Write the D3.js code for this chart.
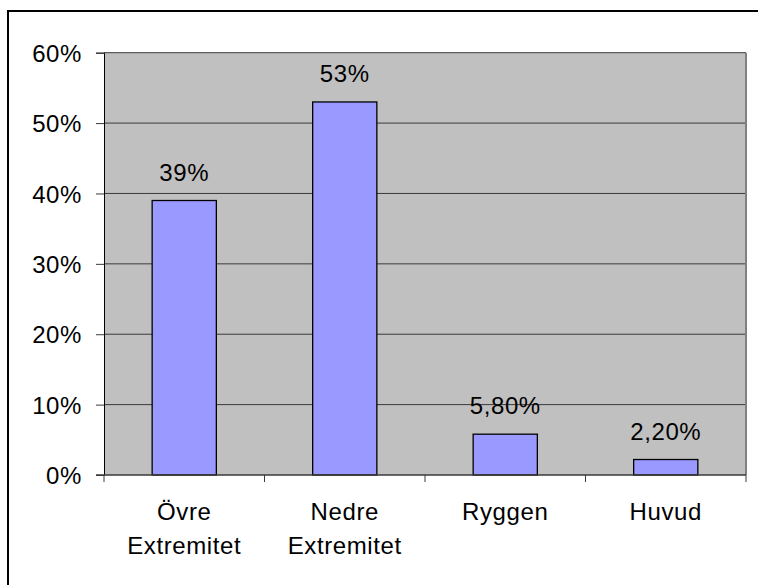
<!DOCTYPE html>
<html>
<head>
<meta charset="utf-8">
<script src="https://cdn.jsdelivr.net/npm/d3@7"></script>
<style>
  html, body { margin: 0; padding: 0; background: #fff; }
  svg { display: block; }
  text { font-family: "Liberation Sans", Arial, sans-serif; font-size: 24px; letter-spacing: 0.6px; fill: #000; }
</style>
</head>
<body>
<script>
// Injury location shares (percent)
const categories = ["Övre Extremitet", "Nedre Extremitet", "Ryggen", "Huvud"];
const values = [39, 53, 5.8, 2.2];
const valueLabels = ["39%", "53%", "5,80%", "2,20%"];
const yTicks = [0, 10, 20, 30, 40, 50, 60];

const W = 758, H = 585;
const plot = { left: 104, right: 746, top: 52.7, bottom: 475 };

const svg = d3.select("body").append("svg")
  .attr("width", W).attr("height", H);

// outer frame
svg.append("rect")
  .attr("x", 8).attr("y", 11)
  .attr("width", 900).attr("height", 800)
  .attr("fill", "none").attr("stroke", "#000").attr("stroke-width", 2);

const x = d3.scaleBand().domain(categories).range([plot.left, plot.right]).padding(0);
const y = d3.scaleLinear().domain([0, 60]).range([plot.bottom, plot.top]);

// plot background
svg.append("rect")
  .attr("x", plot.left).attr("y", plot.top)
  .attr("width", plot.right - plot.left).attr("height", plot.bottom - plot.top)
  .attr("fill", "#C0C0C0");

// horizontal gridlines
svg.append("g").selectAll("line").data(yTicks.filter(d => d > 0)).join("line")
  .attr("x1", plot.left).attr("x2", plot.right)
  .attr("y1", d => y(d)).attr("y2", d => y(d))
  .attr("stroke", "#3a3a3a").attr("stroke-width", 1);

// plot border on the right
svg.append("line")
  .attr("x1", plot.right).attr("x2", plot.right)
  .attr("y1", plot.top).attr("y2", plot.bottom)
  .attr("stroke", "#808080").attr("stroke-width", 2);

// bars
const bw = x.bandwidth() * 0.4;
svg.append("g").selectAll("rect").data(categories).join("rect")
  .attr("x", d => x(d) + (x.bandwidth() - bw) / 2)
  .attr("y", (d, i) => y(values[i]))
  .attr("width", bw)
  .attr("height", (d, i) => y(0) - y(values[i]))
  .attr("fill", "#9999FF")
  .attr("stroke", "#000").attr("stroke-width", 1.3);

// value labels
svg.append("g").selectAll("text").data(categories).join("text")
  .attr("x", d => x(d) + x.bandwidth() / 2)
  .attr("y", (d, i) => y(values[i]) - 20)
  .attr("text-anchor", "middle")
  .text((d, i) => valueLabels[i]);

// y axis
const yAxis = d3.axisLeft(y).tickValues(yTicks).tickFormat(d => d + "%")
  .tickSize(8).tickPadding(14);
const gy = svg.append("g").attr("transform", `translate(${plot.left},0)`).call(yAxis);
gy.select(".domain").attr("stroke", "#000").attr("stroke-width", 1);
gy.selectAll(".tick line").attr("stroke", "#3a3a3a");
gy.selectAll("text").attr("font-size", null).attr("font-family", null).attr("dy", "0.36em");

// x axis baseline and category boundary ticks
const gx = svg.append("g");
gx.append("line")
  .attr("x1", plot.left - 8).attr("x2", plot.right)
  .attr("y1", plot.bottom).attr("y2", plot.bottom)
  .attr("stroke", "#3a3a3a").attr("stroke-width", 1.3);
const edges = categories.map(c => x(c)).concat([x.range()[1]]);
gx.selectAll("line.edge").data(edges).join("line").attr("class", "edge")
  .attr("x1", d => d).attr("x2", d => d)
  .attr("y1", plot.bottom).attr("y2", plot.bottom + 7)
  .attr("stroke", "#3a3a3a").attr("stroke-width", 1);

// category labels, one word per line
const cl = gx.selectAll("text").data(categories).join("text")
  .attr("text-anchor", "middle")
  .attr("x", d => x(d) + x.bandwidth() / 2)
  .attr("y", 520);
cl.selectAll("tspan").data(d => d.split(" ").map(w => ({ w, c: d }))).join("tspan")
  .attr("x", d => x(d.c) + x.bandwidth() / 2)
  .attr("dy", (d, i) => i === 0 ? 0 : 34)
  .text(d => d.w);
</script>
</body>
</html>
